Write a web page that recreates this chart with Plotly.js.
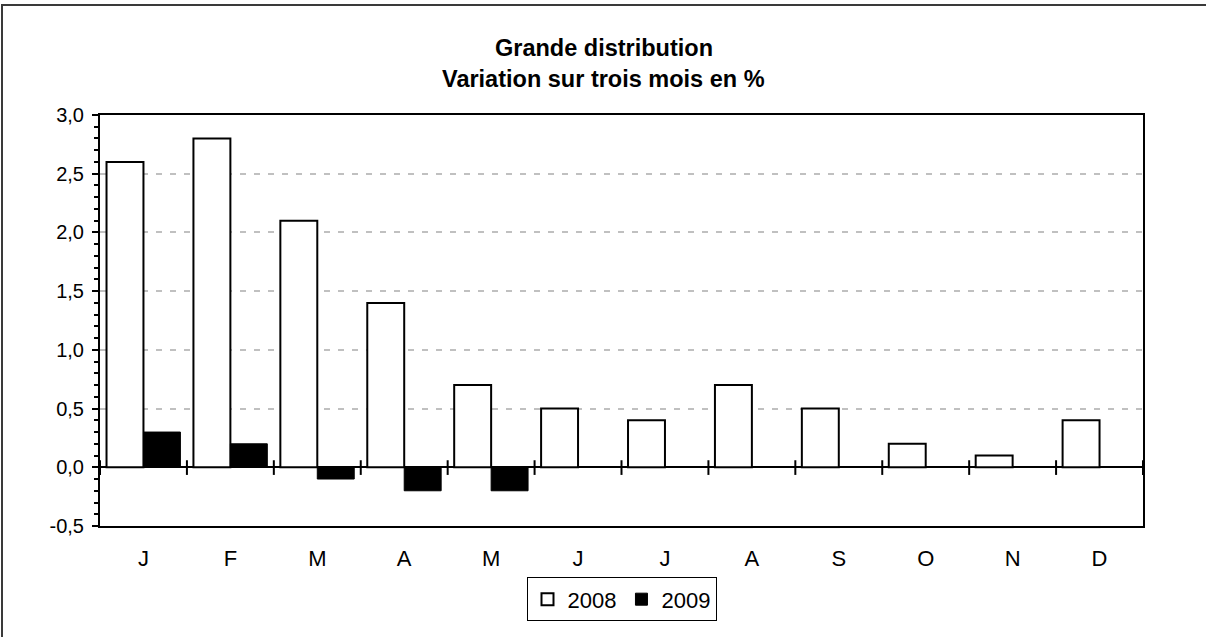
<!DOCTYPE html>
<html>
<head>
<meta charset="utf-8">
<script src="https://cdn.plot.ly/plotly-3.0.1.min.js"></script>
<style>
  html, body { margin: 0; padding: 0; background: #ffffff; overflow: hidden; }
  #wrap { position: relative; width: 1206px; height: 637px; overflow: hidden; }
  #chart { width: 1206px; height: 637px; }
  .fl { position: absolute; background: #3a3a3a; pointer-events: none; }
  #frameTop { left: 1px; top: 4px; width: 1300px; height: 2px; }
  #frameLeft { left: 1px; top: 4px; width: 2px; height: 700px; }
</style>
</head>
<body>
<div id="wrap">
<div id="chart"></div>
<div id="frameTop" class="fl"></div>
<div id="frameLeft" class="fl"></div>
</div>
<script>
// ---- Data ----
const months = ['J', 'F', 'M', 'A', 'M', 'J', 'J', 'A', 'S', 'O', 'N', 'D'];
const values2008 = [2.6, 2.8, 2.1, 1.4, 0.7, 0.5, 0.4, 0.7, 0.5, 0.2, 0.1, 0.4];
const values2009 = [0.3, 0.2, -0.1, -0.2, -0.2, null, null, null, null, null, null, null];
const seriesNames = ['2008', '2009'];
const yTickValues = [-0.5, 0, 0.5, 1.0, 1.5, 2.0, 2.5, 3.0];
const yTickLabels = ['-0,5', '0,0', '0,5', '1,0', '1,5', '2,0', '2,5', '3,0'];
const titleLines = ['Grande distribution', 'Variation sur trois mois en %'];

const FONT = 'Liberation Sans, Arial, sans-serif';
const xIdx = months.map((_, i) => i);

const traces = [
  {
    type: 'bar', name: seriesNames[0], x: xIdx, y: values2008,
    marker: { color: '#ffffff', line: { color: '#000000', width: 2 } },
    hoverinfo: 'skip'
  },
  {
    type: 'bar', name: seriesNames[1], x: xIdx, y: values2009,
    marker: { color: '#000000', line: { color: '#000000', width: 1 } },
    hoverinfo: 'skip'
  }
];

// tick marks crossing the zero line at category boundaries
const boundaries = [-0.5].concat(months.map((_, i) => i + 0.5));
const shapes = boundaries.map(b => ({
  type: 'line', xref: 'x', yref: 'y', x0: b, x1: b, y0: -0.065, y1: 0.06,
  line: { color: '#000000', width: 2 }
}));

const layout = {
  width: 1206, height: 637,
  margin: { l: 100, r: 63, t: 115, b: 111, pad: 0 },
  paper_bgcolor: '#ffffff', plot_bgcolor: '#ffffff',
  separators: ',.',
  font: { family: FONT, color: '#000000' },
  barmode: 'group', bargap: 0.15, bargroupgap: 0,
  showlegend: true,
  legend: {
    orientation: 'h', x: 0.5, xanchor: 'center', y: -0.125, yanchor: 'top',
    bordercolor: '#000000', borderwidth: 1, bgcolor: '#ffffff',
    font: { family: FONT, size: 22, color: '#000000' },
    traceorder: 'normal', itemwidth: 30, tracegroupgap: 0
  },
  xaxis: {
    range: [-0.5, 11.5], tickmode: 'array', tickvals: xIdx, ticktext: months,
    ticks: 'outside', ticklen: 12, tickcolor: 'rgba(0,0,0,0)',
    showline: true, linecolor: '#000000', linewidth: 2, mirror: true,
    showgrid: false, zeroline: false, fixedrange: true,
    tickfont: { family: FONT, size: 22, color: '#000000' }
  },
  yaxis: {
    range: [-0.5, 3.0], tickmode: 'array', tickvals: yTickValues, ticktext: yTickLabels,
    ticks: 'outside', ticklen: 6, tickwidth: 2, tickcolor: '#000000',
    minor: { dtick: 0.1, tick0: 0, ticks: 'outside', ticklen: 4, tickwidth: 2, tickcolor: '#000000', showgrid: false },
    showline: true, linecolor: '#000000', linewidth: 2, mirror: true,
    showgrid: true, gridcolor: '#c0c0c0', gridwidth: 2, griddash: '6px,8px',
    zeroline: true, zerolinecolor: '#000000', zerolinewidth: 2, fixedrange: true,
    ticklabelstandoff: 4,
    tickfont: { family: FONT, size: 20, color: '#000000' }
  },
  shapes: shapes,
  annotations: [
    { text: '<b>' + titleLines[0] + '</b>', xref: 'paper', yref: 'paper', x: 0.483, y: 1.163,
      xanchor: 'center', yanchor: 'middle', showarrow: false,
      font: { family: FONT, size: 23.5, color: '#000000' } },
    { text: '<b>' + titleLines[1] + '</b>', xref: 'paper', yref: 'paper', x: 0.483, y: 1.088,
      xanchor: 'center', yanchor: 'middle', showarrow: false,
      font: { family: FONT, size: 23.5, color: '#000000' } }
  ]
};

Plotly.newPlot('chart', traces, layout, { displayModeBar: false, staticPlot: true });
</script>
</body>
</html>
